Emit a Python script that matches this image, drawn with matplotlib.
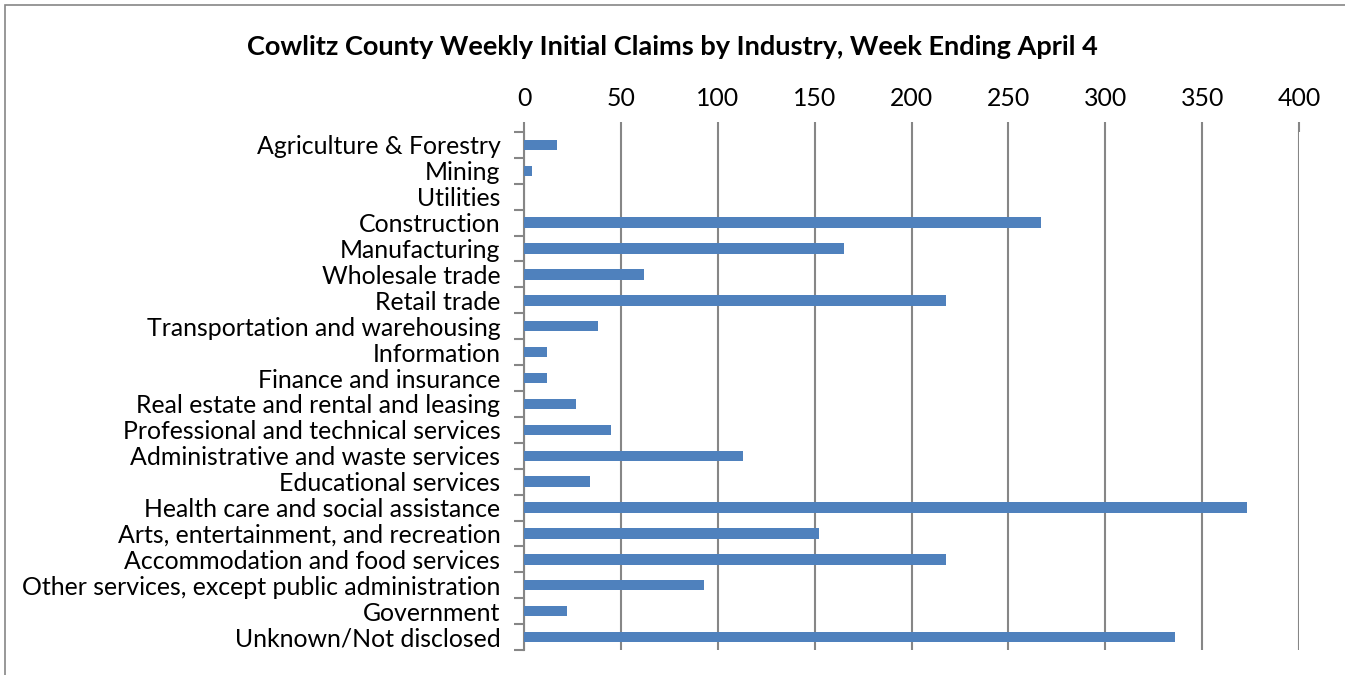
import matplotlib.pyplot as plt
import numpy as np
from matplotlib.patches import Rectangle

plt.rcParams['font.family'] = ['Lato', 'DejaVu Sans']

industries = [
    'Agriculture & Forestry', 'Mining', 'Utilities', 'Construction', 'Manufacturing',
    'Wholesale trade', 'Retail trade', 'Transportation and warehousing', 'Information',
    'Finance and insurance', 'Real estate and rental and leasing',
    'Professional and technical services', 'Administrative and waste services',
    'Educational services', 'Health care and social assistance',
    'Arts, entertainment, and recreation', 'Accommodation and food services',
    'Other services, except public administration', 'Government', 'Unknown/Not disclosed',
]
claims = [17, 4, 0, 267, 165, 62, 218, 38, 12, 12, 27, 45, 113, 34, 373, 152, 218, 93, 22, 336]
xticks = [0, 50, 100, 150, 200, 250, 300, 350, 400]

fig = plt.figure(figsize=(13.45, 6.75), dpi=100)
ax = fig.add_axes([524 / 1345, 1 - 650 / 675, 775 / 1345, 518 / 675])

y = np.arange(len(industries))
ax.barh(y, claims, height=0.4, color='#4F81BD', zorder=3)

ax.set_ylim(len(industries) - 0.5, -0.5)
ax.set_xlim(0, 400)
ax.set_yticks(y)
ax.set_yticklabels(industries, fontsize=17.9)
ax.set_yticks(np.arange(len(industries) + 1) - 0.5, minor=True)
ax.tick_params(axis='y', which='major', length=0, pad=17)
ax.tick_params(axis='y', which='minor', length=7, width=1.5, color='#868686')

ax.xaxis.tick_top()
ax.set_xticks(xticks)
ax.tick_params(axis='x', labelsize=17.9, length=7, width=1.5, color='#868686', pad=9)
ax.grid(axis='x', color='#868686', linewidth=1.5, zorder=0)

for s in ['top', 'right', 'bottom']:
    ax.spines[s].set_visible(False)
ax.spines['left'].set_color('#868686')
ax.spines['left'].set_linewidth(1.5)

fig.text(0.5, 1 - 47 / 675, 'Cowlitz County Weekly Initial Claims by Industry, Week Ending April 4',
         ha='center', va='center', fontsize=19.5, fontweight='bold')

fig.patches.append(Rectangle((5 / 1345, -0.1), 1.2, 1 - 5 / 675 + 0.1, transform=fig.transFigure,
                             fill=False, edgecolor='#868686', linewidth=1.2))

fig.savefig('out.png', dpi=100)
